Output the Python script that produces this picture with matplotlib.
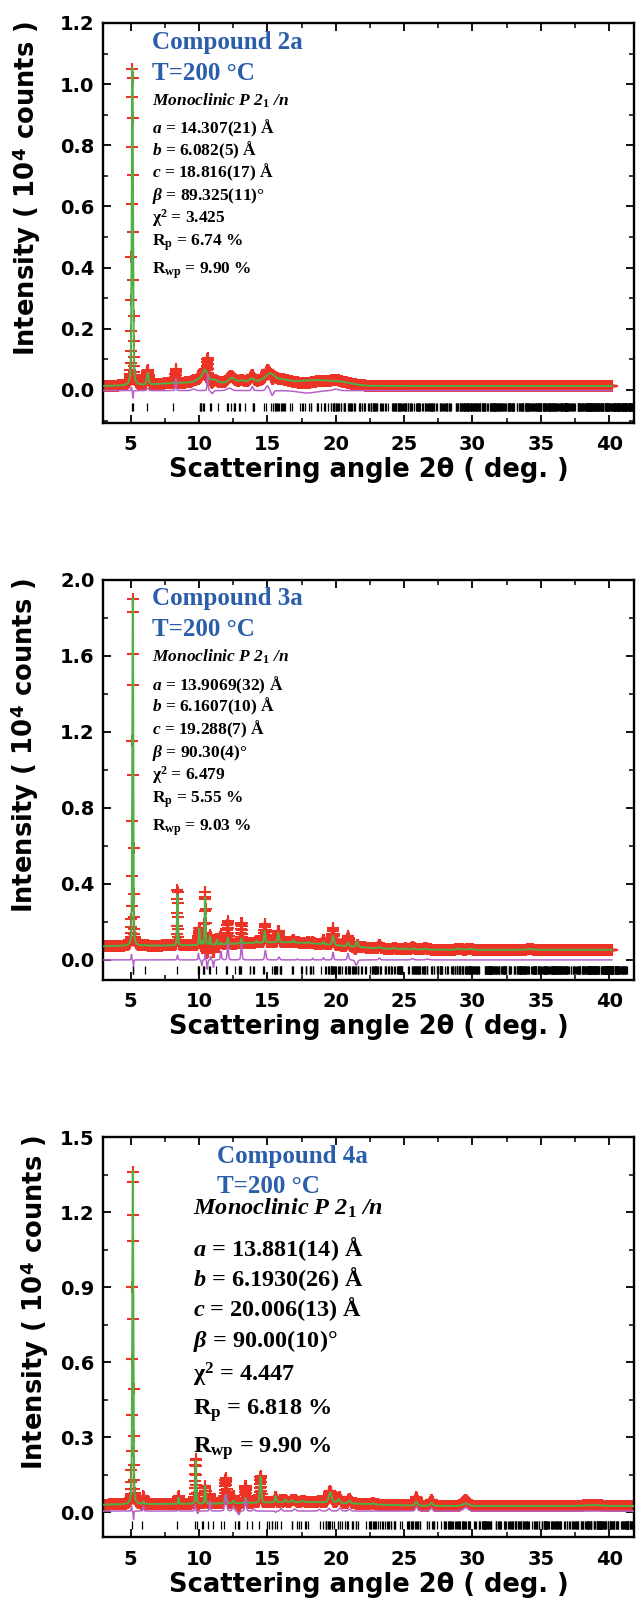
import numpy as np
import matplotlib
matplotlib.use("Agg")
import matplotlib.pyplot as plt
from matplotlib.ticker import MultipleLocator, FormatStrFormatter

plt.rcParams['mathtext.fontset'] = 'custom'
plt.rcParams['mathtext.rm'] = 'Liberation Serif:bold'
plt.rcParams['mathtext.it'] = 'Liberation Serif:italic:bold'
plt.rcParams['mathtext.bf'] = 'Liberation Serif:bold'
plt.rcParams['mathtext.sf'] = 'DejaVu Sans:bold'

# ---- data ----
wavelength = 1.0135   # from the (101)/(002)/(200) tick positions

# compound 2a
cell_2a = (14.307, 6.082, 18.816, 89.325)
base_2a = 0.013
humps_2a = [(9.0, 0.010, 5.0), (15.5, 0.016, 6.0), (18.6, 0.010, 2.0), (20.3, 0.011, 2.0)]
calc_2a = [(5.12, 1.045, 0.11), (6.24, 0.038, 0.16), (8.30, 0.006, 0.12), (10.0, 0.010, 0.6),
           (10.44, 0.040, 0.45), (11.1, 0.010, 0.5), (12.4, 0.016, 0.5), (13.1, 0.006, 0.5),
           (13.85, 0.010, 0.4), (15.2, 0.025, 0.8), (16.2, 0.005, 0.8)]
diff_2a = [(5.05, 0.012, 0.06), (5.16, -0.025, 0.06), (6.24, 0.008, 0.15), (8.30, 0.040, 0.08),
           (9.6, 0.005, 0.3), (10.62, 0.055, 0.08), (10.95, -0.010, 0.2), (12.2, 0.008, 0.4),
           (13.9, 0.013, 0.15), (15.0, 0.016, 0.25), (15.35, -0.016, 0.2), (17.9, -0.008, 1.5),
           (20.0, 0.005, 0.5)]
diff_base_2a = -0.002
end_2a = 40.2
stats_2a = ["14.307(21)", "6.082(5)", "18.816(17)", "89.325(11)", "3.425", "6.74", "9.90"]

# compound 3a
cell_3a = (13.9069, 6.1607, 19.288, 90.30)
base_3a = 0.053
humps_3a = [(6.0, 0.021, 14.0), (16.5, 0.035, 9.0)]
calc_3a = [(5.15, 1.85, 0.08), (6.0, 0.004, 0.08), (8.42, 0.27, 0.08), (10.02, 0.085, 0.08),
           (10.2, 0.02, 0.08), (10.44, 0.25, 0.08), (10.8, 0.045, 0.08), (11.3, 0.025, 0.08),
           (11.6, 0.01, 0.08), (12.1, 0.035, 0.1), (13.1, 0.025, 0.1), (14.2, 0.01, 0.1),
           (14.8, 0.06, 0.1), (15.8, 0.05, 0.12), (16.9, 0.012, 0.12), (18.0, 0.006, 0.15),
           (19.1, 0.012, 0.12), (19.8, 0.048, 0.15), (20.9, 0.02, 0.15), (21.55, 0.03, 0.15),
           (23.2, 0.008, 0.2), (24.3, 0.006, 0.2), (25.1, 0.005, 0.2), (25.7, 0.006, 0.2),
           (26.5, 0.005, 0.3), (29.0, 0.006, 0.4), (29.8, 0.005, 0.4), (34.2, 0.005, 0.4)]
diff_3a = [(5.05, 0.03, 0.05), (5.2, -0.03, 0.05), (8.42, 0.025, 0.08), (9.95, 0.035, 0.08),
           (10.2, -0.03, 0.08), (10.45, 0.03, 0.06), (10.6, -0.05, 0.08), (10.85, 0.02, 0.06),
           (11.05, -0.04, 0.08), (11.6, 0.045, 0.1), (12.1, 0.085, 0.1), (13.1, 0.085, 0.1),
           (14.85, 0.05, 0.12), (15.85, 0.015, 0.12), (17.2, 0.005, 0.1), (18.3, 0.008, 0.1),
           (19.1, 0.012, 0.1), (19.8, 0.04, 0.1), (20.9, 0.035, 0.12), (21.5, -0.028, 0.2),
           (23.2, 0.01, 0.15), (25.6, 0.007, 0.2), (26.7, 0.004, 0.3)]
diff_base_3a = 0.0
end_3a = 40.2
stats_3a = ["13.9069(32)", "6.1607(10)", "19.288(7)", "90.30(4)", "6.479", "5.55", "9.03"]

# compound 4a
cell_4a = (13.881, 6.1930, 20.006, 90.00)
base_4a = 0.025
humps_4a = [(8.0, 0.008, 14.0), (18.0, 0.014, 9.0)]
calc_4a = [(5.15, 1.345, 0.09), (5.93, 0.01, 0.08), (8.5, 0.025, 0.08), (9.76, 0.175, 0.09),
           (10.44, 0.07, 0.09), (11.95, 0.035, 0.15), (12.5, 0.01, 0.15), (13.4, 0.02, 0.12),
           (14.5, 0.105, 0.12), (15.6, 0.025, 0.12), (16.3, 0.01, 0.15), (16.8, 0.008, 0.15),
           (17.6, 0.005, 0.2), (19.6, 0.04, 0.25), (20.2, 0.015, 0.2), (21.0, 0.01, 0.2),
           (22.7, 0.005, 0.2), (25.9, 0.015, 0.2), (27.0, 0.012, 0.2), (29.5, 0.01, 0.5),
           (38.8, 0.004, 1.5)]
diff_4a = [(5.05, 0.02, 0.05), (5.2, -0.035, 0.05), (5.93, 0.02, 0.08), (8.5, 0.005, 0.1),
           (9.7, 0.025, 0.08), (9.9, -0.01, 0.1), (10.8, 0.04, 0.08), (11.95, 0.065, 0.15),
           (12.5, 0.02, 0.15), (12.9, -0.015, 0.15), (13.4, 0.05, 0.12), (14.0, 0.008, 0.15),
           (15.6, -0.005, 0.12), (16.0, 0.01, 0.15), (17.0, 0.008, 0.2), (18.8, 0.006, 0.2),
           (19.5, 0.01, 0.2), (20.3, 0.012, 0.2), (21.0, 0.008, 0.2), (25.9, 0.018, 0.2),
           (27.0, 0.012, 0.2), (29.5, 0.014, 0.4)]
diff_base_4a = 0.005
end_4a = 41.9
stats_4a = ["13.881(14)", "6.1930(26)", "20.006(13)", "90.00(10)", "4.447", "6.818", "9.90"]

RED = '#EC3326'
GREEN = '#4FB045'
PURPLE = '#B462C8'
BLUE = '#2A5DAA'
XLIM = (2.97, 41.82)


def profile(x, peaks, eta):
    y = np.zeros_like(x)
    for pos, h, w in peaks:
        u = (x - pos) / w
        y += h * ((1 - eta) * np.exp(-4 * np.log(2) * u ** 2) + eta / (1 + 4 * u ** 2))
    return y


def bragg(cell, xmax):
    a, b, c, beta = cell
    be = np.radians(beta)
    s2 = np.sin(be) ** 2
    out = []
    for h in range(-14, 15):
        for k in range(0, 7):
            for l in range(0, 18):
                if h == 0 and k == 0 and l == 0:
                    continue
                if k == 0 and (h + l) % 2:
                    continue
                if h == 0 and l == 0 and k % 2:
                    continue
                inv = (h * h / a ** 2 + l * l / c ** 2 - 2 * h * l * np.cos(be) / (a * c)) / s2 + k * k / b ** 2
                s = wavelength * np.sqrt(inv) / 2
                if s >= 1:
                    continue
                tt = 2 * np.degrees(np.arcsin(s))
                if tt < xmax:
                    out.append(tt)
    return np.unique(np.round(out, 3))


def panel(ax, base, humps, calc, diff, dbase, end, cell, tick_y, tick_end, ylim, ymaj, ymin):
    x = np.arange(3.0, end, 0.015)
    yc = base + profile(x, humps, 0.0) + profile(x, calc, 0.3)
    yd = profile(x, diff, 0.3)
    yo = yc + yd
    ax.plot(x, yo, '+', color=RED, ms=8, mew=1.5, zorder=2)
    ax.plot(x, yc, '-', color=GREEN, lw=1.4, zorder=3)
    ax.plot(x, dbase + yd, '-', color=PURPLE, lw=1.1, zorder=3)
    pos = bragg(cell, tick_end)
    ax.vlines(pos, tick_y[0], tick_y[1], color='k', lw=0.9, zorder=2)

    ax.set_xlim(*XLIM)
    ax.set_ylim(*ylim)
    ax.xaxis.set_major_locator(MultipleLocator(5))
    ax.xaxis.set_minor_locator(MultipleLocator(2.5))
    ax.yaxis.set_major_locator(MultipleLocator(ymaj))
    ax.yaxis.set_minor_locator(MultipleLocator(ymin))
    ax.yaxis.set_major_formatter(FormatStrFormatter('%.1f'))
    ax.tick_params(which='both', direction='in', top=True, right=True)
    ax.tick_params(which='major', length=6, width=1.3)
    ax.tick_params(which='minor', length=3.5, width=1.1)
    ax.tick_params(axis='x', which='major', pad=9)
    ax.tick_params(axis='y', which='major', pad=6)
    for lab in ax.get_xticklabels() + ax.get_yticklabels():
        lab.set_fontfamily('DejaVu Sans')
        lab.set_fontweight('heavy')
        lab.set_fontsize(14)
    for sp in ax.spines.values():
        sp.set_linewidth(1.7)
    ax.set_xlabel('Scattering angle 2θ ( deg. )', fontfamily='DejaVu Sans',
                  fontweight='heavy', fontsize=18.5)
    ax.set_ylabel('Intensity ( 10$^{\\mathsf{4}}$ counts )', fontfamily='DejaVu Sans',
                  fontweight='heavy', fontsize=18.5)
    ax.xaxis.set_label_coords(0.5, -0.086)


def notes(ax, name, stats, x1, x2, offs, big, small):
    def put(xp, yoff, s, size, color='k', style='normal'):
        ax.text((xp - 103) / 531, 1 - yoff / 400, s, transform=ax.transAxes,
                fontfamily='Liberation Serif', fontweight='bold', fontstyle=style,
                fontsize=size, color=color, va='baseline', ha='left')
    put(x1, offs[0], 'Compound ' + name, big, BLUE)
    put(x1, offs[1], 'T=200 °C', big, BLUE)
    put(x2, offs[2], 'Monoclinic P 2$_{\\mathit{1}}$ /n', small, style='italic')
    put(x2, offs[3], '$\\mathit{a}$ = ' + stats[0] + ' Å', small)
    put(x2, offs[4], '$\\mathit{b}$ = ' + stats[1] + ' Å', small)
    put(x2, offs[5], '$\\mathit{c}$ = ' + stats[2] + ' Å', small)
    put(x2, offs[6], '$\\mathit{\\beta}$ = ' + stats[3] + '°', small)
    put(x2, offs[7], 'χ$^{2}$ = ' + stats[4], small)
    put(x2, offs[8], 'R$_{\\mathrm{p}}$ = ' + stats[5] + ' %', small)
    put(x2, offs[9], 'R$_{\\mathrm{wp}}$ = ' + stats[6] + ' %', small)


fig = plt.figure(figsize=(6.36, 15.98), dpi=100)
H = 1598.0
ax1 = fig.add_axes([103 / 636, 1 - 423 / H, 531 / 636, 400 / H])
ax2 = fig.add_axes([103 / 636, 1 - 979.5 / H, 531 / 636, 400 / H])
ax3 = fig.add_axes([103 / 636, 1 - 1537.3 / H, 531 / 636, 400 / H])

panel(ax1, base_2a, humps_2a, calc_2a, diff_2a, diff_base_2a, end_2a, cell_2a,
      (-0.068, -0.043), 41.9, (-0.108, 1.2), 0.2, 0.1)
panel(ax2, base_3a, humps_3a, calc_3a, diff_3a, diff_base_3a, end_3a, cell_3a,
      (-0.074, -0.032), 41.3, (-0.103, 2.0), 0.4, 0.2)
panel(ax3, base_4a, humps_4a, calc_4a, diff_4a, diff_base_4a, end_4a, cell_4a,
      (-0.067, -0.034), 41.9, (-0.1, 1.5), 0.3, 0.15)

ax1.yaxis.set_label_coords(-0.113, 0.587)
ax2.yaxis.set_label_coords(-0.1175, 0.584)
ax3.yaxis.set_label_coords(-0.098, 0.586)

offs12 = [25.6, 56.6, 82.3, 110.6, 132.3, 154.6, 177.3, 200, 223, 250.6]
offs3 = [25.6, 55.6, 77.3, 119, 148.3, 179, 209.6, 244, 277.3, 315.6]
notes(ax1, '2a', stats_2a, 151.7, 151.7, offs12, 18, 12.5)
notes(ax2, '3a', stats_3a, 151.7, 151.7, offs12, 18, 12.5)
notes(ax3, '4a', stats_4a, 217.3, 193.3, offs3, 18, 17.5)

fig.savefig('out.png', dpi=100)
